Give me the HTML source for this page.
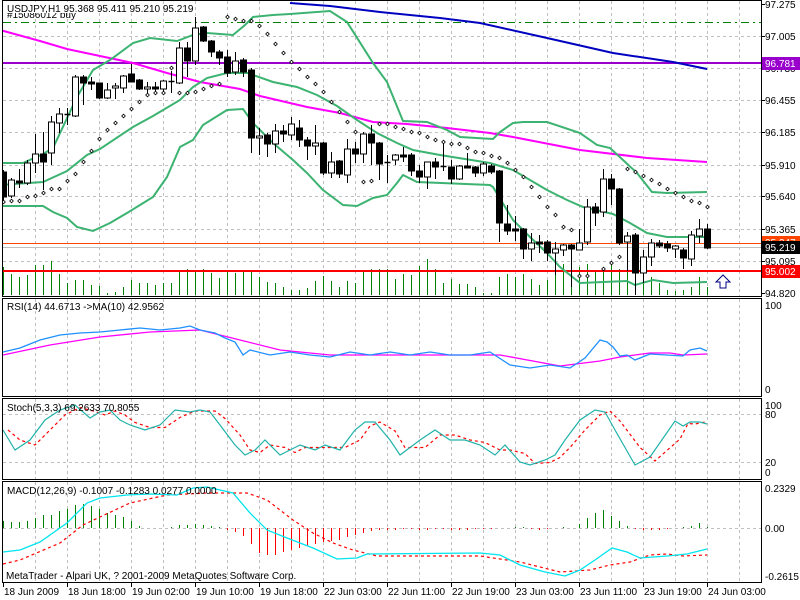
<!DOCTYPE html>
<html><head><meta charset="utf-8"><style>
html,body{margin:0;padding:0;background:#fff;width:800px;height:600px;overflow:hidden}
svg{display:block}
text{font-family:"Liberation Sans",sans-serif;font-size:10px;fill:#000}
</style></head><body>
<svg id="s" width="800" height="600" xmlns="http://www.w3.org/2000/svg">
<defs><clipPath id="cm"><rect x="3" y="1" width="758" height="295"/></clipPath></defs>
<rect width="800" height="600" fill="#fff"/>
<g id="grid" stroke="#c0c0c0" stroke-dasharray="3,3" stroke-width="1"></g>
<g id="main" clip-path="url(#cm)"></g>
<g id="ind"></g>
<g id="frame" fill="none" stroke="#000" stroke-width="1">
<rect x="2.5" y="0.5" width="759" height="296"/>
<rect x="2.5" y="298.5" width="759" height="98"/>
<rect x="2.5" y="398.5" width="759" height="81"/>
<rect x="2.5" y="481.5" width="759" height="101"/>
</g>
<g id="lab"></g>
<text x="7" y="18">#15086012 buy</text>
<rect x="5" y="2" width="150" height="11" fill="#fff"/>
<text x="7" y="12">USDJPY,H1  95.368 95.411 95.210 95.219</text>
<text x="7" y="310">RSI(14) 44.6713 -&gt;MA(10) 42.9562</text>
<text x="7" y="411">Stoch(5,3,3) 69.2633 70.8055</text>
<text x="7" y="494">MACD(12,26,9) -0.1007 -0.1283 0.0277 0.0000</text>
<text x="6" y="579">MetaTrader - Alpari UK, ? 2001-2009 MetaQuotes Software Corp.</text>
<path d="M720 288 L720 282 L716 282 L723 275 L730 282 L726 282 L726 288 Z" fill="#fff" stroke="#000080" stroke-width="1"/>
</svg>
<script>
var NS="http://www.w3.org/2000/svg";
function el(p,t,a,txt){var e=document.createElementNS(NS,t);for(var k in a)e.setAttribute(k,a[k]);if(txt!==undefined)e.textContent=txt;document.getElementById(p).appendChild(e);return e;}
function pl(p,pts,c,w,extra){var a={points:pts.map(function(q){return q.join(',')}).join(' '),fill:'none',stroke:c,'stroke-width':w};for(var k in extra)a[k]=extra[k];el(p,'polyline',a);}
var hy=[36,68,100,132,165,196,229,261];
hy.forEach(function(y){el('grid','line',{x1:3,x2:761,y1:y+.5,y2:y+.5});});
for(var x=35;x<761;x+=32){[[1,296],[299,396],[399,479],[482,582]].forEach(function(r){el('grid','line',{x1:x+.5,x2:x+.5,y1:r[0],y2:r[1]});});}
[414,462].forEach(function(y){el('grid','line',{x1:3,x2:761,y1:y+.5,y2:y+.5});});
el('grid','line',{x1:3,x2:761,y1:528.5,y2:528.5});
var vol=[267,274,277,275,265,265,261,274,283,280,280,285,286,293,292,287,280,283,283,285,283,283,272,269,270,269,273,278,272,273,272,270,277,282,283,287,290,290,288,281,276,281,287,281,283,272,269,269,269,279,274,275,266,259,269,283,279,284,284,287,293,293,277,274,277,274,279,285,280,273,264,267,267,264,272,269,265,269,253,263,267,277,283,290,291,290,287,277,287];
vol.forEach(function(v,i){var x=3.5+8*i;el('main','line',{x1:x,x2:x,y1:295,y2:v,stroke:'#008000','stroke-width':1});});
el('main','line',{x1:3,x2:761,y1:22.5,y2:22.5,stroke:'#008000','stroke-dasharray':'8,4,2,4'});
el('main','line',{x1:3,x2:761,y1:63,y2:63,stroke:'#9900cc','stroke-width':2});
el('main','line',{x1:3,x2:761,y1:243.5,y2:243.5,stroke:'#ff4500','stroke-width':1});
el('main','line',{x1:3,x2:761,y1:247.5,y2:247.5,stroke:'#c0c0c0','stroke-width':1});
el('main','line',{x1:3,x2:761,y1:271,y2:271,stroke:'#ff0000','stroke-width':2});
pl('main',[[290,3],[330,6],[380,12],[440,18],[480,23],[547,38],[613,53],[673,62],[707,69]],'#0000c0',2);
pl('main',[[0,30],[40,41],[67,49],[100,56],[133,63],[167,73],[200,82],[240,89],[260,96],[307,107],[340,113],[373,122],[407,124],[447,128],[490,133],[513,137],[580,150],[647,158],[707,162]],'#ff00ff',2);
var bg='#3cb371';
pl('main',[[0,163],[23,163],[43,154],[53,148],[77,97],[93,70],[110,60],[133,43],[150,38],[177,41],[193,35],[207,33],[233,35],[245,25],[253,17],[273,15],[290,14],[330,11],[347,22],[373,63],[387,82],[403,121],[427,122],[447,130],[460,137],[493,139],[500,132],[513,123],[523,122],[547,122],[580,133],[597,145],[610,148],[623,160],[637,173],[652,192],[667,193],[707,192]],bg,2);
pl('main',[[0,185],[43,182],[67,171],[87,155],[100,149],[133,127],[153,116],[180,100],[193,87],[207,78],[227,73],[250,73],[253,75],[273,82],[297,87],[317,95],[337,106],[357,120],[377,133],[397,143],[413,150],[440,155],[490,163],[513,170],[530,180],[547,190],[567,200],[583,207],[613,214],[630,223],[647,233],[667,237],[707,237]],bg,2);
pl('main',[[0,206],[43,206],[53,212],[67,218],[77,227],[93,231],[110,223],[127,213],[153,197],[167,177],[180,147],[193,140],[203,125],[227,110],[243,109],[253,123],[273,143],[293,160],[307,173],[323,190],[343,205],[357,206],[373,198],[387,195],[397,183],[403,175],[417,182],[490,185],[493,187],[513,220],[530,237],[547,253],[560,267],[580,283],[627,281],[635,285],[653,280],[673,283],[707,282]],bg,2);
var C=[[172,170,200,197],[196,178,198,180],[181,169,188,183],[183,160,185,163],[163,134,173,154],[154,132,190,162],[153,116,165,122],[123,108,133,114],[114,108,125,115],[116,75,117,77],[77,75,105,83],[82,77,90,84],[83,83,99,98],[98,83,99,90],[88,83,99,86],[88,75,93,76],[74,64,82,82],[80,79,90,89],[89,82,97,87],[87,82,95,89],[89,80,95,81],[81,71,93,82],[83,42,84,48],[48,42,77,61],[61,17,65,28],[27,26,42,41],[41,40,57,52],[52,50,65,58],[57,50,77,73],[72,52,75,61],[60,58,77,72],[70,68,153,138],[138,128,155,136],[135,133,157,144],[144,124,153,131],[131,125,142,134],[135,117,140,124],[128,120,147,140],[140,137,160,146],[146,125,155,143],[143,142,175,173],[173,152,178,162],[161,160,178,174],[175,139,183,149],[149,142,163,154],[154,132,163,134],[134,125,165,143],[143,142,180,164],[163,155,183,162],[160,154,165,155],[155,147,162,157],[155,153,176,171],[171,165,183,177],[177,162,189,162],[162,158,179,167],[166,143,171,167],[167,160,184,179],[179,165,180,166],[166,153,168,168],[167,166,177,173],[173,162,176,164],[166,164,174,172],[171,170,242,223],[224,205,235,231],[229,216,241,231],[229,228,259,249],[249,233,261,243],[242,235,253,244],[242,240,261,253],[253,242,275,249],[250,244,256,245],[245,244,287,249],[250,229,250,243],[242,199,245,207],[207,203,226,213],[212,169,217,179],[179,174,205,189],[189,188,245,243],[242,232,271,236],[235,233,295,273],[273,250,283,257],[257,239,266,243],[243,240,248,246],[244,241,252,248],[249,245,258,246],[250,248,269,258],[259,231,266,235],[236,219,243,229],[229,224,249,248]];
C.forEach(function(c,i){var x=3.5+8*i,o=c[0],h=c[1],l=c[2],cl=c[3];var t=Math.min(o,cl),b=Math.max(o,cl);
el('main','line',{x1:x,x2:x,y1:h,y2:l,stroke:'#000','stroke-width':1});
if(b-t<1.5){el('main','line',{x1:x-3,x2:x+3,y1:t+.5,y2:t+.5,stroke:'#000','stroke-width':1.5});}
else el('main','rect',{x:x-3,y:t,width:6,height:b-t,fill:(cl<o?'#fff':'#000'),stroke:'#000','stroke-width':1});});
var sar={0:202,1:201,2:201,3:197,4:196,5:193,6:189,7:189,8:181,9:174,10:162,11:151,12:139,13:130,14:123,15:116,16:109,17:102,18:95,19:93,20:93,21:68,22:93,23:93,24:92,25:89,26:86,27:84,28:17,29:19,30:21,31:21,32:26,33:34,34:44,35:53,36:62,37:69,38:77,39:84,40:92,41:102,42:112,43:122,44:132,45:182,46:181,47:124,48:124,49:127,50:129,51:132,52:133,53:137,54:140,55:142,56:144,57:144,58:148,59:152,60:153,61:156,62:158,63:163,64:170,65:177,66:187,67:197,68:207,69:215,70:227,71:230,72:276,73:276,75:269,76:263,77:257,78:169,79:172,80:176,81:180,82:184,83:189,84:193,85:197,86:201,87:203,88:207};
for(var k in sar){var x=3.5+8*k,y=sar[k];el('main','path',{d:'M'+x+' '+(y-1.8)+'L'+(x+1.8)+' '+y+'L'+x+' '+(y+1.8)+'L'+(x-1.8)+' '+y+'Z',fill:'#fff',stroke:'#000','stroke-width':0.8});}
pl('ind',[[3,355],[50,345],[100,337],[150,332],[200,330],[240,340],[280,350],[330,355],[400,355],[500,355],[560,366],[600,361],[620,357],[650,353],[670,353],[683,355],[707,354]],'#ff00ff',1.3);
pl('ind',[[3,352],[20,348],[40,340],[60,335],[80,333],[100,332],[120,330],[140,328],[160,330],[180,328],[190,326],[200,330],[215,333],[225,338],[235,342],[243,355],[250,350],[270,355],[290,352],[310,355],[330,357],[350,352],[370,355],[390,352],[410,355],[430,352],[450,355],[470,355],[490,352],[510,365],[530,368],[550,365],[570,368],[585,358],[600,340],[607,342],[613,347],[620,356],[627,355],[635,360],[650,354],[683,356],[690,350],[700,348],[707,351]],'#1e90ff',1.3);
var st=[[3,430],[15,450],[30,440],[45,420],[60,410],[75,405],[90,418],[100,412],[110,410],[120,420],[130,425],[145,430],[160,425],[175,410],[190,412],[200,410],[210,412],[220,425],[235,445],[245,455],[255,450],[265,440],[280,455],[290,450],[300,445],[315,450],[325,445],[340,450],[355,430],[365,422],[375,422],[390,440],[400,455],[420,440],[435,430],[450,440],[465,440],[480,445],[495,455],[505,445],[520,462],[530,465],[545,460],[555,455],[565,440],[580,420],[595,410],[605,412],[615,430],[635,465],[650,457],[675,421],[683,426],[690,422],[700,422],[707,424]];
var sg=st.map(function(p,i){var j=Math.max(0,i-1);return [p[0]+5,(st[j][1]+p[1])/2];});sg=sg.filter(function(p){return p[0]<=707});
pl('ind',sg,'#ff0000',1.2,{'stroke-dasharray':'3,3'});
pl('ind',st,'#20b2aa',1.2);
var hist=[521,522,522,521,518,515,515,511,509,505,504,506,509,513,515,517,521,526,528,528,528,527,525,525,524,525,526,527,530,532,536,544,553,555,555,552,550,548,546,544,542,541,540,537,535,533,531,530,530,530,529,529,530,530,529,529,530,530,530,529,529,529,528,528,527,527,529,530,529,528,527,528,524,518,513,510,516,521,526,529,530,530,530,529,528,527,526,523,527];
hist.forEach(function(v,i){var x=3.5+8*i;if(Math.abs(v-528)<0.5)return;el('ind','line',{x1:x,x2:x,y1:528,y2:v,stroke:(v<528?'#008000':'#ff0000'),'stroke-width':1});});
pl('ind',[[3,564],[20,560],[60,543],[83,525],[100,517],[130,503],[167,495],[207,493],[247,493],[267,500],[293,520],[313,533],[333,543],[353,550],[377,556],[480,556],[520,562],[560,572],[590,570],[610,565],[630,562],[650,555],[667,554],[683,556],[707,555]],'#ff0000',1.2,{'stroke-dasharray':'3,3'});
pl('ind',[[3,552],[20,550],[40,542],[67,523],[87,503],[100,498],[127,495],[150,494],[177,495],[193,488],[207,487],[233,493],[250,513],[267,530],[287,538],[313,548],[337,559],[357,558],[367,554],[480,553],[500,555],[520,565],[545,572],[565,576],[580,570],[595,560],[612,548],[627,552],[640,558],[667,556],[687,554],[707,549]],'#00e5ee',1.3);
var pv=[[4,'97.275'],[36,'97.005'],[68,'96.730'],[100,'96.455'],[132,'96.185'],[165,'95.910'],[196,'95.640'],[229,'95.365'],[261,'95.095'],[293,'94.820']];
pv.forEach(function(p){el('lab','line',{x1:761,x2:765,y1:p[0]+.5,y2:p[0]+.5,stroke:'#000'});el('lab','text',{x:765,y:p[0]+4},p[1]);});
[[305,'100'],[389,'0']].forEach(function(p){el('lab','text',{x:765,y:p[0]+4},p[1]);});
[[405,'100'],[414,'80'],[462,'20'],[472,'0']].forEach(function(p){el('lab','text',{x:765,y:p[0]+4},p[1]);});
[[488,'0.2329'],[528,'0.00'],[576,'-0.2615']].forEach(function(p){el('lab','text',{x:765,y:p[0]+4},p[1]);});
function box(y,c,t){el('lab','rect',{x:762,y:y-6,width:38,height:13,fill:c});el('lab','text',{x:765,y:y+4,style:'fill:#fff'},t);}
box(63,'#9900cc','96.781');box(242,'#ff4500','95.247');box(247,'#000','95.219');box(271,'#ff0000','95.002');
var tl=['18 Jun 2009','18 Jun 18:00','19 Jun 02:00','19 Jun 10:00','19 Jun 18:00','22 Jun 03:00','22 Jun 11:00','22 Jun 19:00','23 Jun 03:00','23 Jun 11:00','23 Jun 19:00','24 Jun 03:00'];
tl.forEach(function(t,k){var x=3+64*k;el('lab','line',{x1:x+.5,x2:x+.5,y1:583,y2:587,stroke:'#000'});el('lab','text',{x:x+1,y:595},t);});
</script>
</body></html>
